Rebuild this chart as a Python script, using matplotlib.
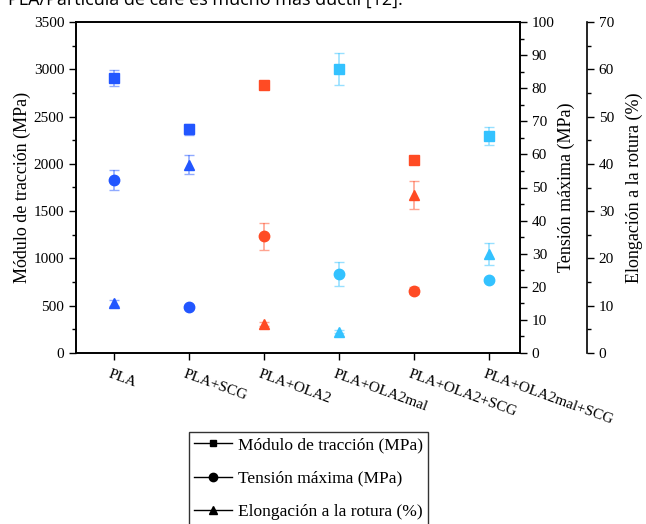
import matplotlib
matplotlib.use("Agg")
from matplotlib import pyplot as plt
from matplotlib.ticker import MultipleLocator
from matplotlib.lines import Line2D
import matplotlib.transforms as mtransforms
import numpy as np

plt.rcParams['font.family'] = ['Liberation Serif', 'DejaVu Serif']

muestras = ["PLA", "PLA+SCG", "PLA+OLA2", "PLA+OLA2mal", "PLA+OLA2+SCG", "PLA+OLA2mal+SCG"]
colores = ["#2256ff", "#2256ff", "#ff4b24", "#33c2ff", "#ff4b24", "#33c2ff"]

# Modulo de traccion (MPa)
modulo = [2910, 2365, 2830, 3000, 2040, 2290]
modulo_err = [85, 58, 35, 170, 20, 95]

# Tension maxima (MPa)
tension = [52.3, 13.9, 35.2, 23.9, 18.8, 22.1]
tension_err = [3.0, 0.5, 4.0, 3.7, 1.0, 0.5]

# Elongacion a la rotura (%)
elongacion = [10.6, 39.8, 6.2, 4.5, 33.4, 20.9]
elongacion_err = [0.7, 2.0, 0.4, 0.3, 3.0, 2.3]


def puntos(ax, vals, errs, marker, ms):
    for i in range(len(muestras)):
        ax.errorbar(i + 1, vals[i], yerr=errs[i], fmt='none', ecolor=colores[i],
                    alpha=0.5, capsize=3.5, elinewidth=1.2, capthick=1.0)
        ax.plot(i + 1, vals[i], marker=marker, color=colores[i], ms=ms,
                linestyle='none')


def main():
    fig = plt.figure(figsize=(6.46, 5.24), dpi=100)
    ax = fig.add_axes([76/646, 1 - 353/524, 444/646, 331/524])
    ax2 = ax.twinx()
    ax3 = ax.twinx()
    ax3.spines['right'].set_position(('axes', 1.151))
    for s in ['top', 'left', 'bottom']:
        ax3.spines[s].set_visible(False)

    puntos(ax, modulo, modulo_err, 's', 6.5)
    puntos(ax2, tension, tension_err, 'o', 7.5)
    puntos(ax3, elongacion, elongacion_err, '^', 7.5)

    ax.set_xlim(0.493, 6.413)
    ax.set_ylim(0, 3500)
    ax2.set_ylim(0, 100)
    ax3.set_ylim(0, 70)

    ax.yaxis.set_major_locator(MultipleLocator(500))
    ax.yaxis.set_minor_locator(MultipleLocator(250))
    ax2.yaxis.set_major_locator(MultipleLocator(10))
    ax2.yaxis.set_minor_locator(MultipleLocator(5))
    ax3.yaxis.set_major_locator(MultipleLocator(10))
    ax3.yaxis.set_minor_locator(MultipleLocator(5))

    for a in (ax, ax2, ax3):
        a.tick_params(which='major', direction='out', length=5, width=1, labelsize=11)
        a.tick_params(which='minor', direction='out', length=3, width=1)
        for s in a.spines.values():
            s.set_linewidth(1.2)

    ax.set_xticks(range(1, len(muestras) + 1))
    ax.set_xticklabels(muestras, rotation=-20, ha='left', va='top',
                       rotation_mode='anchor', fontsize=11)
    off = mtransforms.ScaledTranslation(-3/100, -3/100, fig.dpi_scale_trans)
    for lab in ax.get_xticklabels():
        lab.set_transform(lab.get_transform() + off)

    ax.set_ylabel("Módulo de tracción (MPa)", fontsize=13, labelpad=2)
    ax2.set_ylabel("Tensión máxima (MPa)", fontsize=13, labelpad=2)
    ax3.set_ylabel("Elongación a la rotura (%)", fontsize=13, labelpad=8)

    handles = [
        Line2D([0], [0], color='black', lw=1, marker='s', ms=5),
        Line2D([0], [0], color='black', lw=1, marker='o', ms=6),
        Line2D([0], [0], color='black', lw=1, marker='^', ms=6),
    ]
    etiquetas = ["Módulo de tracción (MPa)", "Tensión máxima (MPa)",
                 "Elongación a la rotura (%)"]
    leg = fig.legend(handles, etiquetas, loc='upper left',
                     bbox_to_anchor=(189/646, 1 - 432/524), fontsize=12.5,
                     frameon=True, fancybox=False, edgecolor='black',
                     handlelength=2.2, labelspacing=1.0, borderpad=0.3,
                     handletextpad=0.3, borderaxespad=0)
    leg.get_frame().set_linewidth(1)

    fig.text(8/646, 1 - 5/524, "PLA/Partícula de café es mucho más dúctil [12].",
             fontsize=13, family=['Open Sans', 'DejaVu Sans'], va='baseline')

    fig.savefig("out.png", dpi=100)


if __name__ == "__main__":
    main()
